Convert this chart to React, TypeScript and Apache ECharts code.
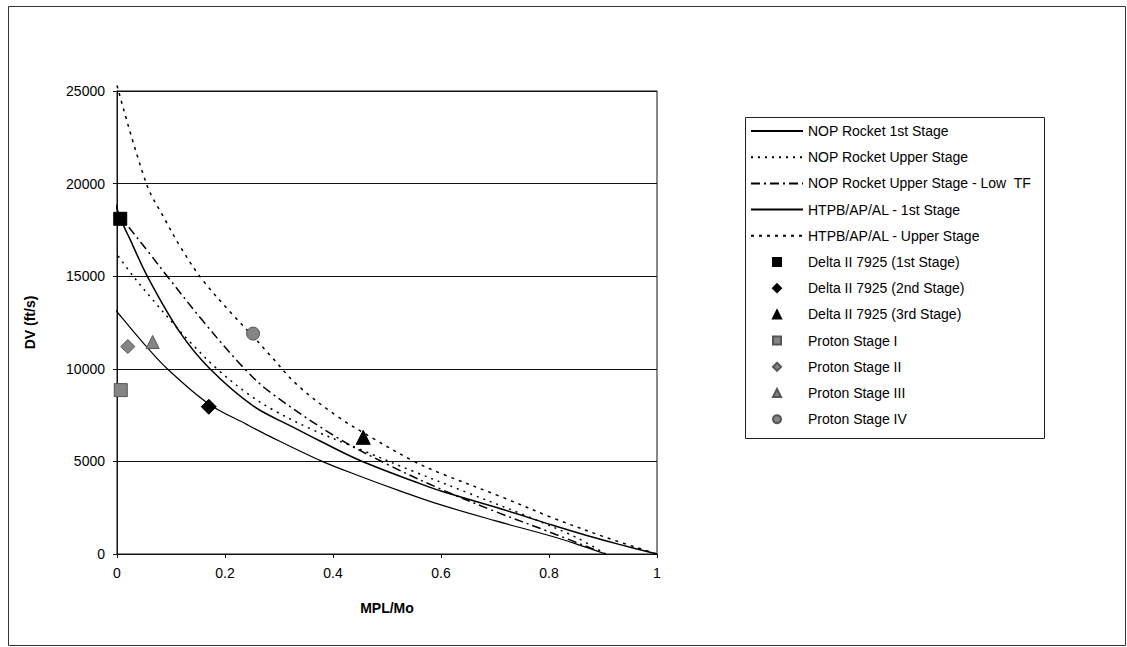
import React, { useEffect, useRef } from 'react';
import * as echarts from 'echarts';

// ---- Data ----
const lineNames = [
  'NOP Rocket 1st Stage',
  'NOP Rocket Upper Stage',
  'NOP Rocket Upper Stage - Low  TF',
  'HTPB/AP/AL - 1st Stage',
  'HTPB/AP/AL - Upper Stage',
];
const pointNames = [
  'Delta II 7925 (1st Stage)',
  'Delta II 7925 (2nd Stage)',
  'Delta II 7925 (3rd Stage)',
  'Proton Stage I',
  'Proton Stage II',
  'Proton Stage III',
  'Proton Stage IV',
];

// NOP Rocket 1st Stage (lower solid)
const nopFirstX = [-0.013, 0, 0.05, 0.093, 0.17, 0.24, 0.283, 0.38, 0.45, 0.52, 0.6, 0.7, 0.8, 0.85, 0.905];
const nopFirstY = [13550, 13080, 11350, 10000, 8100, 7000, 6350, 5000, 4200, 3450, 2650, 1800, 1000, 550, 0];

// NOP Rocket Upper Stage (dotted)
const nopUpperX = [-0.013, 0.03, 0.067, 0.104, 0.135, 0.187, 0.24, 0.289, 0.363, 0.45, 0.55, 0.65, 0.75, 0.85, 0.905];
const nopUpperY = [16700, 15000, 13700, 12450, 11450, 9950, 8700, 7780, 6700, 5650, 4450, 3300, 2150, 900, 0];

// NOP Rocket Upper Stage - Low TF (dash-dot)
const nopLowX = [0, 0.0185, 0.061, 0.093, 0.16, 0.233, 0.283, 0.407, 0.5, 0.6, 0.7, 0.8, 0.905];
const nopLowY = [18450, 17770, 16200, 15000, 12550, 10100, 8750, 6300, 4850, 3500, 2300, 1200, 0];

// HTPB/AP/AL - 1st Stage (upper solid)
const htpbFirstX = [-0.012, 0.006, 0.024, 0.057, 0.117, 0.172, 0.252, 0.326, 0.376, 0.45, 0.561, 0.6, 0.715, 0.807, 0.87, 0.93, 1];
const htpbFirstY = [19750, 18150, 17000, 14950, 11950, 10000, 8000, 6850, 6100, 5050, 3800, 3400, 2400, 1550, 1000, 520, 0];

// HTPB/AP/AL - Upper Stage (dotted, top curve)
const htpbUpperX = [0, 0.055, 0.089, 0.117, 0.157, 0.215, 0.252, 0.283, 0.333, 0.407, 0.469, 0.55, 0.6, 0.715, 0.807, 0.907, 1];
const htpbUpperY = [25300, 19950, 18050, 16600, 14850, 12900, 11750, 10750, 9150, 7450, 6330, 5000, 4350, 3050, 1950, 880, 0];

// Vehicle stages (single points)
const deltaFirst = [0.006, 18100];
const deltaSecond = [0.17, 7950];
const deltaThird = [0.456, 6300];
const protonI = [0.007, 8850];
const protonII = [0.02, 11200];
const protonIII = [0.066, 11450];
const protonIV = [0.252, 11900];

const xTicks = { min: 0, max: 1, interval: 0.2 };
const yTicks = { min: 0, max: 25000, interval: 5000 };

const zip = (xs: number[], ys: number[]) => xs.map((x, i) => [x, ys[i]]);

const FONT = 'Liberation Sans, Arial, sans-serif';

export default function App() {
  const ref = useRef<HTMLDivElement>(null);
  useEffect(() => {
    const chart = echarts.init(ref.current!, null, { renderer: 'svg' });
    const lineSeries = (name: string, xs: number[], ys: number[], type: any, width: number) => ({
      name,
      type: 'line',
      data: zip(xs, ys),
      symbol: 'none',
      smooth: 0.35,
      clip: false,
      lineStyle: { color: '#000', width, type },
      itemStyle: { color: '#000' },
      z: 3,
    });
    const pointSeries = (name: string, pt: number[], symbol: string, size: number, color: string) => ({
      name,
      type: 'scatter',
      data: [pt],
      symbol,
      symbolSize: size,
      clip: false,
      itemStyle: { color, borderColor: color === '#000' ? '#000' : '#555', borderWidth: 1, opacity: 1 },
      z: 4,
    });
    const gray = '#858585';
    chart.setOption({
      animation: false,
      backgroundColor: '#fff',
      textStyle: { fontFamily: FONT, color: '#000' },
      grid: {
        left: 117, top: 91, width: 540, height: 463,
        show: true, borderColor: '#111', borderWidth: 1, backgroundColor: 'transparent',
      },
      xAxis: {
        type: 'value', ...xTicks,
        name: 'MPL/Mo', nameLocation: 'middle', nameGap: 47,
        nameTextStyle: { fontFamily: FONT, fontSize: 14, fontWeight: 'bold', color: '#000' },
        axisLine: { show: true, onZero: false, lineStyle: { color: '#111', width: 1 } },
        axisTick: { show: true, length: 4, lineStyle: { color: '#111' } },
        axisLabel: { fontFamily: FONT, fontSize: 14, color: '#000', margin: 12, formatter: (v: number) => String(v) },
        splitLine: { show: false },
      },
      yAxis: {
        type: 'value', ...yTicks,
        name: 'DV (ft/s)', nameLocation: 'middle', nameGap: 80, nameRotate: 90,
        nameTextStyle: { fontFamily: FONT, fontSize: 14, fontWeight: 'bold', color: '#000' },
        axisLine: { show: true, onZero: false, lineStyle: { color: '#111', width: 1 } },
        axisTick: { show: true, length: 4, lineStyle: { color: '#111' } },
        axisLabel: { fontFamily: FONT, fontSize: 14, color: '#000', margin: 12, formatter: (v: number) => String(v) },
        splitLine: { show: true, lineStyle: { color: '#111', width: 1 } },
      },
      legend: [
        {
          orient: 'vertical', left: 750, top: 124, padding: 0,
          itemWidth: 52, itemHeight: 10, itemGap: 12.2,
          data: lineNames,
          itemStyle: { opacity: 0 },
          textStyle: { fontFamily: FONT, fontSize: 14, color: '#000' },
          selectedMode: false,
        },
        {
          orient: 'vertical', left: 772, top: 255, padding: 0,
          itemWidth: 8, itemHeight: 8, itemGap: 12.2,
          data: [
            { name: pointNames[0], icon: 'rect' },
            { name: pointNames[1], icon: 'diamond' },
            { name: pointNames[2], icon: 'triangle' },
            { name: pointNames[3], icon: 'rect' },
            { name: pointNames[4], icon: 'diamond' },
            { name: pointNames[5], icon: 'triangle' },
            { name: pointNames[6], icon: 'circle' },
          ],
          textStyle: { fontFamily: FONT, fontSize: 14, color: '#000', padding: [0, 0, 0, 22] },
          selectedMode: false,
        },
      ],
      graphic: [
        {
          type: 'rect', silent: true, z: -1,
          shape: { x: 8.5, y: 6.5, width: 1117, height: 639 },
          style: { fill: 'none', stroke: '#333', lineWidth: 1 },
        },
        {
          type: 'rect', silent: true,
          shape: { x: 745.5, y: 117.5, width: 299, height: 321 },
          style: { fill: 'none', stroke: '#222', lineWidth: 1 },
        },
      ],
      series: [
        lineSeries(lineNames[0], nopFirstX, nopFirstY, 'solid', 1.2),
        lineSeries(lineNames[1], nopUpperX, nopUpperY, [2, 5], 1.5),
        lineSeries(lineNames[2], nopLowX, nopLowY, [9, 4, 2, 4], 1.5),
        lineSeries(lineNames[3], htpbFirstX, htpbFirstY, 'solid', 1.5),
        lineSeries(lineNames[4], htpbUpperX, htpbUpperY, [3, 5], 1.5),
        pointSeries(pointNames[0], deltaFirst, 'rect', 13, '#000'),
        pointSeries(pointNames[1], deltaSecond, 'diamond', 15, '#000'),
        pointSeries(pointNames[2], deltaThird, 'triangle', 14, '#000'),
        pointSeries(pointNames[3], protonI, 'rect', 13, gray),
        pointSeries(pointNames[4], protonII, 'diamond', 14, gray),
        pointSeries(pointNames[5], protonIII, 'triangle', 13, gray),
        pointSeries(pointNames[6], protonIV, 'circle', 13, gray),
      ],
    });
    return () => chart.dispose();
  }, []);
  return (
    <div
      ref={ref}
      style={{ position: 'absolute', left: 0, top: 0, width: 1127, height: 647, background: '#fff' }}
    />
  );
}
